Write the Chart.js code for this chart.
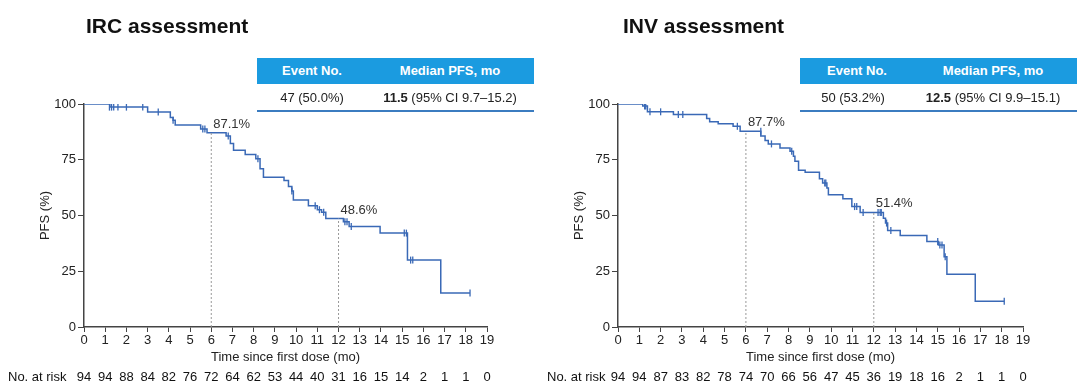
<!DOCTYPE html>
<html>
<head>
<meta charset="utf-8">
<script src="https://cdn.jsdelivr.net/npm/chart.js@4"></script>
<style>
  body { margin: 0; width: 1080px; height: 390px; background: #fff; font-family: "Liberation Sans", Arial, sans-serif; overflow: hidden; }
  .wrap { position: absolute; top: 0; width: 540px; height: 390px; }
  .title { position: absolute; font-weight: bold; font-size: 21px; color: #111; top: 14px; }
  .tbl { position: absolute; top: 58px; width: 277px; font-size: 13px; color: #222; }
  .tbl .head { background: #1b9be0; color: #fff; font-weight: bold; height: 26px; line-height: 26px; position: relative; }
  .tbl .row { height: 26px; line-height: 28px; position: relative; border-bottom: 2px solid #3b7cc0; }
  .tbl span { position: absolute; transform: translateX(-50%); white-space: nowrap; }
  canvas { position: absolute; left: 0; top: 0; }
</style>
</head>
<body>
<div class="wrap" style="left:0">
  <canvas id="irc" width="540" height="390"></canvas>
  <div class="title" style="left:86px">IRC assessment</div>
  <div class="tbl" style="left:257px">
    <div class="head"><span style="left:55px">Event No.</span><span style="left:193px">Median PFS, mo</span></div>
    <div class="row"><span style="left:55px">47 (50.0%)</span><span style="left:193px"><b>11.5</b> (95% CI 9.7–15.2)</span></div>
  </div>
</div>
<div class="wrap" style="left:540px">
  <canvas id="inv" width="540" height="390"></canvas>
  <div class="title" style="left:83px">INV assessment</div>
  <div class="tbl" style="left:260px">
    <div class="head"><span style="left:57px">Event No.</span><span style="left:193px">Median PFS, mo</span></div>
    <div class="row"><span style="left:53px">50 (53.2%)</span><span style="left:193px"><b>12.5</b> (95% CI 9.9–15.1)</span></div>
  </div>
</div>
<script>
// Tempo (meses) e PFS (%) em cada queda da curva
const ircTimes = [0, 1.22, 3.0, 4.07, 4.2, 4.3, 5.5, 5.8, 6.7, 6.9, 7.05, 7.6, 8.1, 8.3, 8.46, 9.43, 9.64, 9.8, 9.87, 10.58, 11.0, 11.2, 11.4, 12.23, 12.5, 13.96, 15.25, 16.82, 18.2];
const ircPfs   = [100, 98.6, 96.4, 94.0, 92.7, 90.6, 88.8, 87.1, 85.6, 82.3, 79.3, 77.3, 75.5, 71.0, 67.2, 65.7, 63.0, 61.0, 57.0, 54.4, 52.6, 51.5, 48.6, 47.2, 45.1, 42.1, 30.0, 15.3, 15.3];
const ircCensT = [1.2, 1.3, 1.4, 1.6, 2.0, 2.77, 3.5, 4.2, 5.6, 5.7, 6.8, 8.2, 9.8, 10.9, 11.1, 11.3, 12.3, 12.4, 12.6, 15.1, 15.2, 15.4, 15.5, 18.2];
const ircCensY = [98.6, 98.6, 98.6, 98.6, 98.6, 98.6, 96.4, 92.7, 88.8, 88.8, 85.6, 75.5, 61.0, 54.4, 52.6, 51.5, 47.2, 47.2, 45.1, 42.1, 42.1, 30.0, 30.0, 15.3];

const invTimes = [0, 1.16, 1.38, 2.6, 4.16, 4.3, 4.7, 5.4, 5.73, 6.7, 6.9, 7.05, 7.6, 8.07, 8.23, 8.3, 8.47, 8.78, 9.45, 9.6, 9.8, 9.87, 10.55, 10.97, 11.36, 12.45, 12.55, 12.65, 13.24, 14.49, 15.03, 15.3, 15.43, 16.76, 18.12];
const invPfs   = [100, 99.1, 96.5, 95.3, 93.5, 92.0, 91.1, 90.0, 87.8, 85.6, 83.6, 82.1, 80.3, 78.8, 76.6, 74.3, 70.3, 69.4, 66.5, 64.6, 62.3, 59.3, 57.5, 54.0, 51.4, 48.8, 46.6, 43.3, 41.0, 38.3, 36.8, 31.5, 23.6, 11.6, 11.6];
const invCensT = [1.25, 1.3, 1.5, 2.0, 2.83, 3.04, 5.6, 6.7, 7.2, 8.15, 9.7, 9.75, 11.1, 11.2, 11.5, 12.2, 12.3, 12.35, 12.6, 12.8, 15.0, 15.1, 15.2, 15.35, 18.12];
const invCensY = [99.1, 99.1, 96.5, 96.5, 95.3, 95.3, 90.0, 87.8, 82.1, 78.8, 64.6, 64.6, 54.0, 54.0, 51.4, 51.4, 51.4, 51.4, 46.6, 43.3, 38.3, 36.8, 36.8, 31.5, 11.6];

const monthTicks = [0, 1, 2, 3, 4, 5, 6, 7, 8, 9, 10, 11, 12, 13, 14, 15, 16, 17, 18, 19];
const pfsTicks = [0, 25, 50, 75, 100];
const ircAtRisk = [94, 94, 88, 84, 82, 76, 72, 64, 62, 53, 44, 40, 31, 16, 15, 14, 2, 1, 1, 0];
const invAtRisk = [94, 94, 87, 83, 82, 78, 74, 70, 66, 56, 47, 45, 36, 19, 18, 16, 2, 1, 1, 0];

const ircMarks = [[6, 87.1], [12, 48.6]];
const invMarks = [[6, 87.7], [12, 51.4]];

const blue = '#3a69b6';
const axisColor = '#444';
const FONT = '"Liberation Sans", Arial, sans-serif';

function pairs(xs, ys) {
    return xs.map((x, i) => ({ x: x, y: ys[i] }));
}

// Desenha linhas tracejadas, rótulos de % e a linha "No. at risk"
const extrasPlugin = {
    id: 'extras',
    afterDatasetsDraw(chart, args, opts) {
        const { ctx, scales: { x, y } } = chart;
        ctx.save();
        opts.marks.forEach(([t, v]) => {
            const px = x.getPixelForValue(t);
            const py = y.getPixelForValue(v);
            ctx.strokeStyle = '#999';
            ctx.lineWidth = 1;
            ctx.setLineDash([2, 2]);
            ctx.beginPath();
            ctx.moveTo(px, y.getPixelForValue(0));
            ctx.lineTo(px, py);
            ctx.stroke();
            ctx.setLineDash([]);
            ctx.fillStyle = '#333';
            ctx.font = '13px ' + FONT;
            ctx.textAlign = 'left';
            ctx.textBaseline = 'alphabetic';
            ctx.fillText(v.toFixed(1) + '%', px + 2, py - 5);
        });
        ctx.fillStyle = '#111';
        ctx.font = '13px ' + FONT;
        ctx.textBaseline = 'middle';
        ctx.textAlign = 'left';
        ctx.fillText('No. at risk', opts.labelX, 377);
        ctx.textAlign = 'center';
        opts.atRisk.forEach((n, i) => {
            ctx.fillText(String(n), x.getPixelForValue(monthTicks[i]), 377);
        });
        ctx.restore();
    }
};

function drawKM(id, times, pfs, censT, censY, atRisk, marks, padLeft, padRight, labelX) {
    const ctx = document.getElementById(id).getContext('2d');
    new Chart(ctx, {
        type: 'line',
        data: {
            datasets: [{
                data: pairs(times, pfs),
                borderColor: blue,
                borderWidth: 1.5,
                stepped: true,
                pointRadius: 0,
                fill: false
            }, {
                type: 'scatter',
                data: pairs(censT, censY),
                pointStyle: 'line',
                rotation: 90,
                radius: 3.5,
                borderColor: blue,
                borderWidth: 1.3
            }]
        },
        options: {
            responsive: false,
            animation: false,
            layout: { padding: { top: 104, right: padRight, bottom: 25, left: padLeft } },
            plugins: {
                legend: { display: false },
                tooltip: { enabled: false },
                extras: { marks: marks, atRisk: atRisk, labelX: labelX }
            },
            scales: {
                x: {
                    type: 'linear',
                    min: 0,
                    max: 19,
                    afterBuildTicks: s => { s.ticks = monthTicks.map(v => ({ value: v })); },
                    afterFit: s => { s.height = 38; },
                    grid: { display: true, drawOnChartArea: false, drawTicks: true, tickLength: 5, color: axisColor },
                    border: { display: true, color: axisColor, width: 1.5 },
                    ticks: { color: '#222', font: { size: 13, family: FONT }, padding: 1, maxRotation: 0, autoSkip: false },
                    title: { display: true, text: 'Time since first dose (mo)', color: '#222', font: { size: 13, family: FONT }, padding: { top: 0, bottom: 0 } }
                },
                y: {
                    min: 0,
                    max: 100,
                    afterBuildTicks: s => { s.ticks = pfsTicks.map(v => ({ value: v })); },
                    afterFit: s => { s.width = 46; },
                    grid: { display: true, drawOnChartArea: false, drawTicks: true, tickLength: 6, color: axisColor },
                    border: { display: true, color: axisColor, width: 1.5 },
                    ticks: { color: '#222', font: { size: 13, family: FONT }, padding: 2 },
                    title: { display: true, text: 'PFS (%)', color: '#222', font: { size: 13, family: FONT }, padding: { top: 0, bottom: 0 } }
                }
            }
        },
        plugins: [extrasPlugin]
    });
}

drawKM('irc', ircTimes, ircPfs, ircCensT, ircCensY, ircAtRisk, ircMarks, 38, 53, 8);
drawKM('inv', invTimes, invPfs, invCensT, invCensY, invAtRisk, invMarks, 32, 57, 7);
</script>
</body>
</html>
